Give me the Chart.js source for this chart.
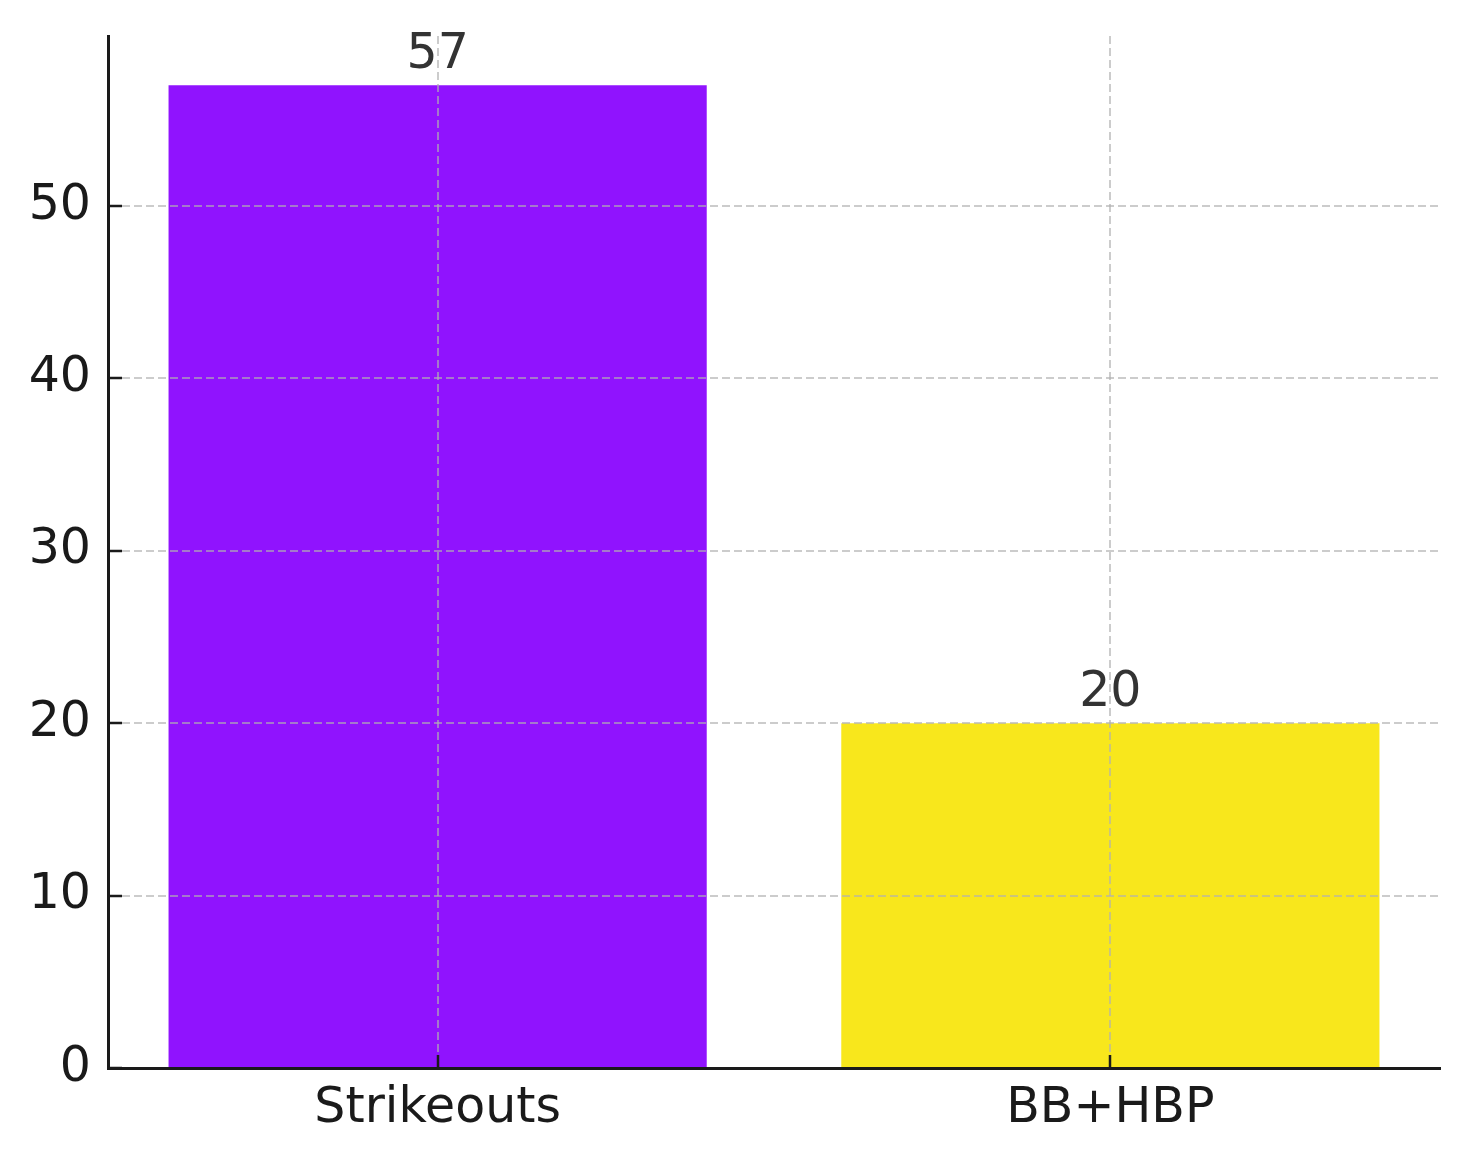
<!DOCTYPE html>
<html lang="en">
<head>
    <meta charset="UTF-8">
    <title>Strikeouts vs BB+HBP</title>
    <script src="https://cdn.jsdelivr.net/npm/chart.js"></script>
    <style>
        html, body { margin: 0; padding: 0; background: #ffffff; }
        #wrap { width: 1469px; height: 1162px; position: relative; }
    </style>
</head>
<body>
    <div id="wrap"><canvas id="chart"></canvas></div>

    <script>
        // Data
        const categories = ['Strikeouts', 'BB+HBP'];
        const values = [57, 20];
        const barColors = ['#9013FE', '#F8E71C'];
        const yTicks = [0, 10, 20, 30, 40, 50];

        const FONT = "'DejaVu Sans', sans-serif";
        const gridColor = 'rgba(176, 176, 176, 0.65)';
        const axisColor = '#1a1a1a';

        // Value labels above each bar
        const valueLabels = {
            id: 'valueLabels',
            afterDatasetsDraw(chart) {
                const ctx = chart.ctx;
                const meta = chart.getDatasetMeta(0);
                ctx.save();
                ctx.font = '49px ' + FONT;
                ctx.fillStyle = '#333333';
                ctx.textAlign = 'center';
                ctx.textBaseline = 'alphabetic';
                meta.data.forEach((bar, i) => {
                    ctx.fillText(String(values[i]), bar.x, bar.y - 17);
                });
                ctx.restore();
            }
        };

        new Chart(document.getElementById('chart'), {
            type: 'bar',
            data: {
                datasets: [{
                    data: categories.map((c, i) => ({ x: i, y: values[i] })),
                    backgroundColor: barColors,
                    borderWidth: 0,
                    barPercentage: 0.8,
                    categoryPercentage: 1.0
                }]
            },
            options: {
                responsive: true,
                maintainAspectRatio: false,
                animation: false,
                layout: { padding: { left: 0, right: 29, top: 36, bottom: 0 } },
                plugins: {
                    legend: { display: false },
                    tooltip: { enabled: false }
                },
                scales: {
                    x: {
                        type: 'linear',
                        min: -0.49,
                        max: 1.49,
                        offset: false,
                        afterBuildTicks: (scale) => {
                            scale.ticks = categories.map((c, i) => ({ value: i }));
                        },
                        afterFit: (scale) => {
                            scale.height = 94;
                            scale.paddingLeft = 0;
                            scale.paddingRight = 0;
                        },
                        ticks: {
                            callback: (v) => categories[v],
                            font: { family: FONT, size: 49 },
                            color: axisColor,
                            padding: 25,
                            maxRotation: 0,
                            autoSkip: false
                        },
                        grid: {
                            z: 1,
                            offset: false,
                            color: gridColor,
                            lineWidth: 2,
                            tickLength: -13,
                            tickColor: axisColor,
                            tickWidth: 2.5
                        },
                        border: { display: true, z: 1, color: axisColor, width: 3, dash: [8, 4] }
                    },
                    y: {
                        min: 0,
                        max: 59.85,
                        afterBuildTicks: (scale) => {
                            scale.ticks = yTicks.map(v => ({ value: v }));
                        },
                        afterFit: (scale) => {
                            scale.width = 108;
                            scale.paddingTop = 0;
                            scale.paddingBottom = 0;
                        },
                        ticks: {
                            font: { family: FONT, size: 49 },
                            color: axisColor,
                            padding: 31
                        },
                        grid: {
                            z: 1,
                            color: (c) => (c.tick && c.tick.value === 0 ? 'rgba(0,0,0,0)' : gridColor),
                            lineWidth: 2,
                            tickLength: -14,
                            tickColor: axisColor,
                            tickWidth: 2.5
                        },
                        border: { display: true, z: 1, color: axisColor, width: 3, dash: [8, 4] }
                    }
                }
            },
            plugins: [valueLabels]
        });
    </script>
</body>
</html>
